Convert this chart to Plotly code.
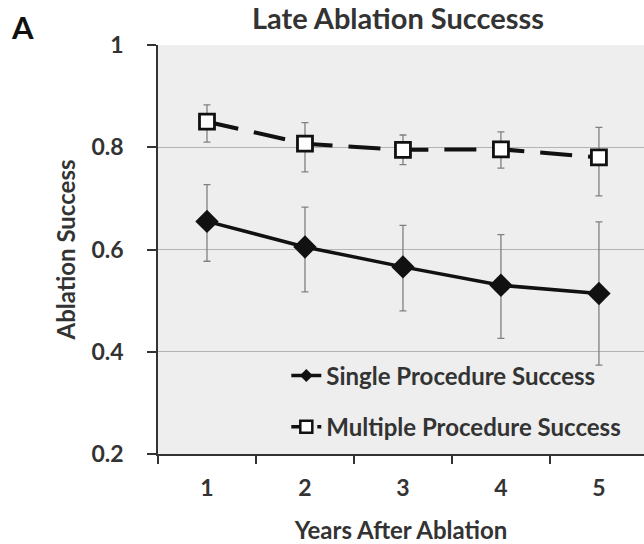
import plotly.graph_objects as go

years = ["1", "2", "3", "4", "5"]

single_success = [0.655, 0.605, 0.566, 0.530, 0.514]
single_upper = [0.727, 0.683, 0.647, 0.629, 0.654]
single_lower = [0.577, 0.517, 0.480, 0.426, 0.374]

multiple_success = [0.850, 0.807, 0.795, 0.796, 0.780]
multiple_upper = [0.883, 0.848, 0.824, 0.830, 0.839]
multiple_lower = [0.810, 0.752, 0.766, 0.759, 0.705]

y_ticks = [0.2, 0.4, 0.6, 0.8, 1.0]
y_tick_text = ["0.2", "0.4", "0.6", "0.8", "1"]

series_names = ["Single Procedure Success", "Multiple Procedure Success"]

FONT = "Lato"
TEXT = "#333333"
INK = "#111111"
ERR = "#808080"


def err(vals, hi, lo):
    plus = [h - v for h, v in zip(hi, vals)]
    minus = [v - l for v, l in zip(vals, lo)]
    return dict(type="data", symmetric=False, array=plus, arrayminus=minus,
                color=ERR, thickness=1.3, width=3.5)


fig = go.Figure()

# data series (legend drawn separately with smaller key symbols)
fig.add_trace(go.Scatter(
    x=years, y=single_success, name=series_names[0], showlegend=False,
    mode="lines+markers",
    line=dict(color=INK, width=3.5),
    marker=dict(symbol="diamond", size=18, color=INK),
    error_y=err(single_success, single_upper, single_lower),
))
fig.add_trace(go.Scatter(
    x=years, y=multiple_success, name=series_names[1], showlegend=False,
    mode="lines+markers",
    line=dict(color=INK, width=4, dash="32px,16px"),
    marker=dict(symbol="square", size=15, color="white",
                line=dict(color=INK, width=2.8)),
    error_y=err(multiple_success, multiple_upper, multiple_lower),
))

# legend keys
fig.add_trace(go.Scatter(
    x=[None], y=[None], name=series_names[0], legendgroup="a",
    mode="lines+markers",
    line=dict(color=INK, width=3.5),
    marker=dict(symbol="diamond", size=10, color=INK),
))
fig.add_trace(go.Scatter(
    x=[None], y=[None], name=series_names[1], legendgroup="b",
    mode="lines+markers",
    line=dict(color=INK, width=3.5, dash="12px,14px"),
    marker=dict(symbol="square", size=12, color="white",
                line=dict(color=INK, width=2.5)),
))

fig.update_layout(
    width=644, height=544,
    margin=dict(l=158, r=0, t=45, b=90),
    paper_bgcolor="white",
    plot_bgcolor="#eeeeee",
    font=dict(family=FONT, color=TEXT, size=22, weight="bold"),
    title=dict(text="Late Ablation Successs", x=0.618, xanchor="center",
               y=0.966, yanchor="middle",
               font=dict(size=29, color=TEXT, weight="bold")),
    showlegend=True,
    legend=dict(x=0.264, y=0.246, xanchor="left", yanchor="top",
                bgcolor="rgba(0,0,0,0)", tracegroupgap=17,
                font=dict(size=24, color=TEXT, family=FONT, weight="bold"),
                itemwidth=30),
    xaxis=dict(
        type="category", range=[-0.5, 4.46],
        tickson="boundaries", ticks="outside", ticklen=8, tickcolor="#333",
        tickwidth=1.5,
        showline=True, linecolor="#333", linewidth=1.6,
        showgrid=False, tickfont=dict(size=23, weight="bold"),
        ticklabelstandoff=13,
        title=dict(text="Years After Ablation",
                   font=dict(size=24, weight="bold"), standoff=25),
    ),
    yaxis=dict(
        range=[0.2, 1.0], tickvals=y_ticks, ticktext=y_tick_text,
        ticks="outside", ticklen=9, tickcolor="#333", tickwidth=1.5,
        showline=True, linecolor="#333", linewidth=1.6,
        showgrid=True, gridcolor="#b3b3b3", gridwidth=1, zeroline=False,
        tickfont=dict(size=23, weight="bold"),
        ticklabelstandoff=19,
        title=dict(text="Ablation Success",
                   font=dict(size=24, weight="bold"), standoff=9),
    ),
)

fig.add_annotation(text="A", xref="paper", yref="paper",
                   x=-0.307, y=1.045, xanchor="left", yanchor="middle",
                   showarrow=False,
                   font=dict(size=31, color=INK, weight="bold"))

fig.write_html("out.html")
